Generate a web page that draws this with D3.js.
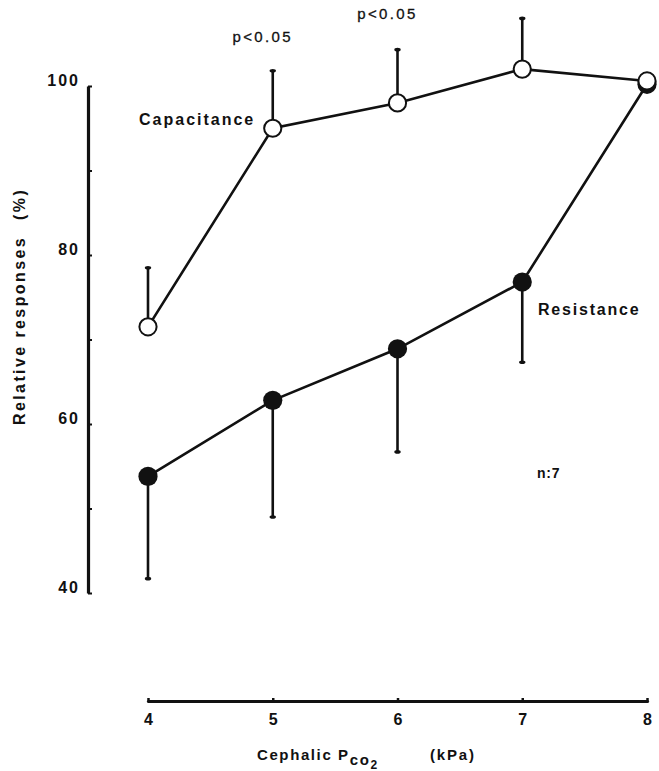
<!DOCTYPE html>
<html>
<head>
<meta charset="utf-8">
<script src="https://cdn.jsdelivr.net/npm/d3@7"></script>
<style>
  html, body { margin: 0; padding: 0; background: #fff; }
  svg { display: block; }
  text { font-family: "Liberation Sans", Arial, Helvetica, sans-serif; fill: #111; }
</style>
</head>
<body>
<svg id="chart" width="659" height="771"></svg>
<script>
// Cephalic PCO2 (kPa) at each step
const pco2 = [4, 5, 6, 7, 8];

// Capacitance response (% of maximum) and its upward error bar (SD)
const capacitance   = [71.5, 95.0, 98.0, 102.0, 100.6];
const capacitanceSD = [7.0, 6.8, 6.3, 6.0, 0];

// Resistance response (% of maximum) and its downward error bar (SD)
const resistance    = [53.8, 62.8, 68.9, 76.8, 100.2];
const resistanceSD  = [12.1, 13.8, 12.2, 9.5, 0];

// Axis ticks
const yTickLabels = [40, 60, 80, 100];
const yMinorTicks = [40, 50, 60, 70, 80, 90, 100];
const xTickLabels = [4, 5, 6, 7, 8];

// Significance marks placed above capacitance points
const sigMarks = [{ x: 5, label: "p<0.05", y: 42 }, { x: 6, label: "p<0.05", y: 19 }];

const svg = d3.select("#chart");

const x = d3.scaleLinear().domain([4, 8]).range([148, 647]);
const y = d3.scaleLinear().domain([40, 100]).range([593, 86]);

const axisX0 = 88;   // y-axis position
const axisY0 = 701;  // x-axis position

// ---- Y axis: thick spine with small ticks to the right
const yAxisTicks = svg.append("g")
  .attr("transform", `translate(${axisX0},0)`)
  .call(d3.axisRight(y).tickValues(yMinorTicks).tickSize(4).tickSizeOuter(0).tickFormat(""));
yAxisTicks.select(".domain").attr("stroke", "#111").attr("stroke-width", 3.2);
yAxisTicks.selectAll(".tick line").attr("stroke", "#111").attr("stroke-width", 2);

const yAxisLabels = svg.append("g")
  .attr("transform", `translate(${axisX0 - 8},0)`)
  .call(d3.axisLeft(y).tickValues(yTickLabels).tickSize(0).tickPadding(0));
yAxisLabels.select(".domain").remove();
yAxisLabels.selectAll(".tick text")
  .attr("font-size", 16).attr("font-weight", "bold")
  .attr("letter-spacing", "2px")
  .attr("dy", "-0.05em")
  .style("font-family", '"Liberation Sans", Arial, sans-serif')
  .attr("fill", "#111");

// ---- X axis: thick spine with tiny ticks upward
const xAxisTicks = svg.append("g")
  .attr("transform", `translate(0,${axisY0})`)
  .call(d3.axisTop(x).tickValues(xTickLabels).tickSize(3).tickSizeOuter(0).tickFormat(""));
xAxisTicks.select(".domain").attr("stroke", "#111").attr("stroke-width", 3.2).attr("stroke-linecap", "round");
xAxisTicks.selectAll(".tick line").attr("stroke", "#111").attr("stroke-width", 2.5);

const xAxisLabels = svg.append("g")
  .attr("transform", `translate(0,${axisY0})`)
  .call(d3.axisBottom(x).tickValues(xTickLabels).tickSize(0).tickPadding(13).tickFormat(d3.format("d")));
xAxisLabels.select(".domain").remove();
xAxisLabels.selectAll(".tick text")
  .attr("font-size", 16).attr("font-weight", "bold")
  .style("font-family", '"Liberation Sans", Arial, sans-serif')
  .attr("fill", "#111");

// ---- Axis titles
svg.append("text")
  .attr("transform", "translate(25,425) rotate(-90)")
  .attr("font-size", 16).attr("font-weight", "bold")
  .attr("letter-spacing", "2.4px")
  .text("Relative responses")
  .append("tspan").attr("dx", 16).text("(%)");

const xt = svg.append("text")
  .attr("x", 257).attr("y", 760)
  .attr("font-size", 15).attr("font-weight", "bold")
  .attr("letter-spacing", "1.6px");
xt.append("tspan").text("Cephalic P");
xt.append("tspan").attr("dy", 5).text("co");
xt.append("tspan").attr("dy", 4).attr("font-size", 12).text("2");
svg.append("text")
  .attr("x", 430).attr("y", 760)
  .attr("font-size", 15).attr("font-weight", "bold")
  .attr("letter-spacing", "1.8px")
  .text("(kPa)");

// ---- Data
const capData = pco2.map((p, i) => ({ p, v: capacitance[i], sd: capacitanceSD[i] }));
const resData = pco2.map((p, i) => ({ p, v: resistance[i], sd: resistanceSD[i] }));

const line = d3.line().x(d => x(d.p)).y(d => y(d.v));

// Error bars: capacitance upward, resistance downward
function errorBars(data, dir) {
  const g = svg.append("g");
  const withBar = data.filter(d => d.sd > 0);
  g.selectAll("line").data(withBar).join("line")
    .attr("x1", d => x(d.p)).attr("x2", d => x(d.p))
    .attr("y1", d => y(d.v)).attr("y2", d => y(d.v + dir * d.sd))
    .attr("stroke", "#111").attr("stroke-width", 2.6);
  g.selectAll("ellipse").data(withBar).join("ellipse")
    .attr("cx", d => x(d.p)).attr("cy", d => y(d.v + dir * d.sd))
    .attr("rx", 3.2).attr("ry", 1.8).attr("fill", "#111");
}
errorBars(capData, 1);
errorBars(resData, -1);

svg.append("path").datum(resData).attr("d", line)
  .attr("fill", "none").attr("stroke", "#111").attr("stroke-width", 2.6);
svg.append("path").datum(capData).attr("d", line)
  .attr("fill", "none").attr("stroke", "#111").attr("stroke-width", 2.6);

svg.append("g").selectAll("circle").data(resData).join("circle")
  .attr("cx", d => x(d.p)).attr("cy", d => y(d.v)).attr("r", 9.6)
  .attr("fill", "#111");
svg.append("g").selectAll("circle").data(capData).join("circle")
  .attr("cx", d => x(d.p)).attr("cy", d => y(d.v)).attr("r", 8.6)
  .attr("fill", "#fff").attr("stroke", "#111").attr("stroke-width", 2);

// ---- Annotations
svg.selectAll(".sig").data(sigMarks).join("text")
  .attr("class", "sig")
  .attr("x", d => x(d.x) - 10).attr("y", d => d.y)
  .attr("text-anchor", "middle")
  .attr("font-size", 15)
  .attr("stroke", "#111").attr("stroke-width", 0.3)
  .attr("letter-spacing", "2.4px")
  .text(d => d.label);

svg.append("text").attr("x", 139).attr("y", 125)
  .attr("font-size", 16).attr("font-weight", "bold")
  .attr("letter-spacing", "2px")
  .text("Capacitance");

svg.append("text").attr("x", 538).attr("y", 315)
  .attr("font-size", 16).attr("font-weight", "bold")
  .attr("letter-spacing", "1.8px")
  .text("Resistance");

svg.append("text").attr("x", 537).attr("y", 478)
  .attr("font-size", 14).attr("font-weight", "bold")
  .attr("letter-spacing", "0.8px")
  .text("n:7");
</script>
</body>
</html>
